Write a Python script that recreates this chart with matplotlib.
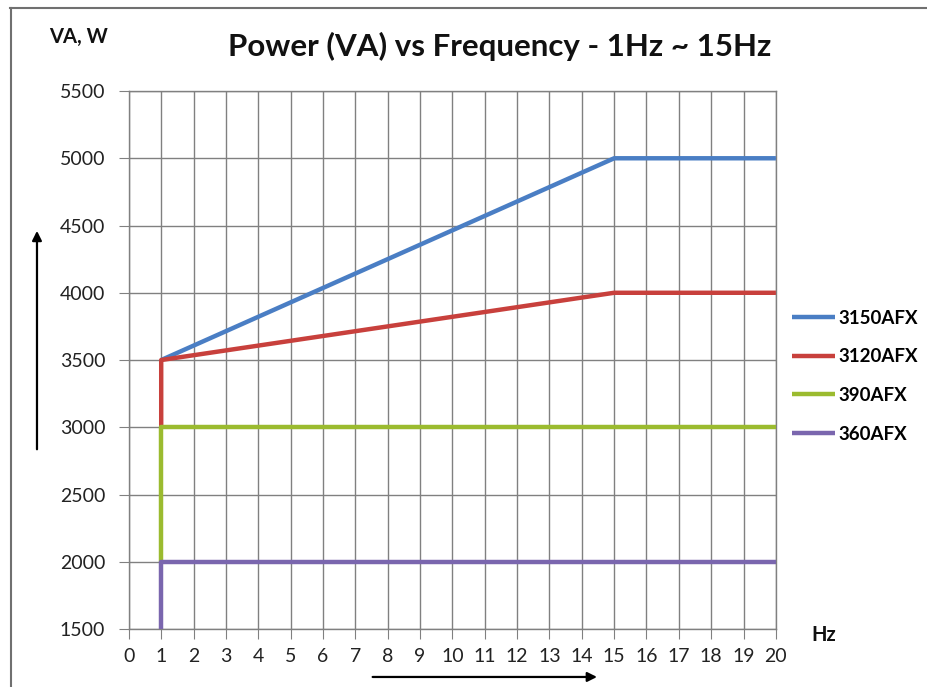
import matplotlib
matplotlib.use("Agg")
import matplotlib.pyplot as plt
from matplotlib.lines import Line2D

plt.rcParams['font.family'] = ['Lato', 'DejaVu Sans']

# series data (Hz, VA)
labels = ['3150AFX', '3120AFX', '390AFX', '360AFX']
colors = ['#4A7EC4', '#C8403C', '#9BBB2F', '#7A66AE']
x_3150 = [1, 15, 20]
y_3150 = [3500, 5000, 5000]
x_3120 = [1, 1, 15, 20]
y_3120 = [3000, 3500, 4000, 4000]
x_390 = [1, 1, 20]
y_390 = [2000, 3000, 3000]
x_360 = [1, 1, 20]
y_360 = [1500, 2000, 2000]

xticks = list(range(0, 21))
yticks = list(range(1500, 5501, 500))

fig = plt.figure(figsize=(9.27, 6.87), dpi=100)
ax = fig.add_axes([0.139, 0.0844, 0.698, 0.7831])

series = [(x_3150, y_3150), (x_3120, y_3120), (x_390, y_390), (x_360, y_360)]
for (xs, ys), c, lab in zip(series, colors, labels):
    ax.plot(xs, ys, color=c, lw=3.2, label=lab, solid_capstyle='butt', zorder=3)

ax.set_xlim(0, 20)
ax.set_ylim(1500, 5500)
ax.set_xticks(xticks)
ax.set_yticks(yticks)
ax.grid(True, color='#808080', lw=1)
ax.set_axisbelow(True)
for s in ax.spines.values():
    s.set_color('#808080')
    s.set_linewidth(1)
ax.tick_params(axis='both', direction='out', length=7, color='#808080',
               labelsize=14, labelcolor='#222222')
ax.tick_params(axis='y', pad=10)
ax.tick_params(axis='x', pad=7)

leg = ax.legend(loc='center left', bbox_to_anchor=(1.025, 0.47), frameon=False,
                borderaxespad=0, borderpad=0,
                handlelength=2.3, handletextpad=0.15, labelspacing=1.15,
                prop={'weight': 'bold', 'size': 13.5})

fig.text(0.539, 0.932, 'Power (VA) vs Frequency - 1Hz ~ 15Hz', ha='center', va='center',
         fontsize=22.5, fontweight='bold', color='#111111')
fig.text(0.053, 0.946, 'VA, W', ha='left', va='center', fontsize=14.5, fontweight='bold', color='#111111')
fig.text(0.875, 0.076, 'Hz', ha='left', va='center', fontsize=14.5, fontweight='bold', color='#111111')

# arrows
fig.add_artist(matplotlib.patches.FancyArrowPatch((0.0399, 0.342), (0.0399, 0.668), transform=fig.transFigure,
               arrowstyle='-|>', mutation_scale=14, color='black', lw=1.6))
fig.add_artist(matplotlib.patches.FancyArrowPatch((0.399, 0.0146), (0.647, 0.0146), transform=fig.transFigure,
               arrowstyle='-|>', mutation_scale=14, color='black', lw=1.6))

# outer frame
fig.add_artist(Line2D([0.011, 1.0], [0.988, 0.988], transform=fig.transFigure, color='#707070', lw=1.5))
fig.add_artist(Line2D([0.012, 0.012], [0.0, 0.988], transform=fig.transFigure, color='#707070', lw=1.5))

fig.savefig('out.png', dpi=100)
